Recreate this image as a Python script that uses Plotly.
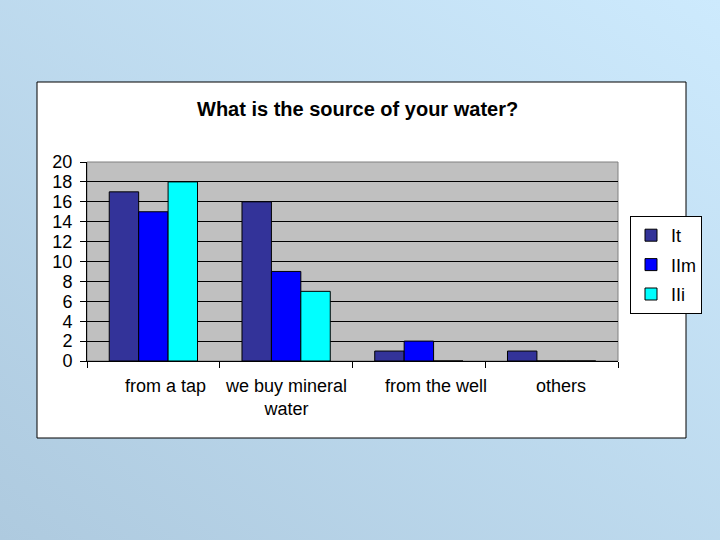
import base64
import plotly.graph_objects as go

categories = ["from a tap", "we buy mineral<br>water", "from the well", "others"]
series_names = ["It", "IIm", "IIi"]
vals_it = [17, 16, 1, 1]
vals_iim = [15, 9, 2, 0]
vals_iii = [18, 7, 0, 0]
colors = ["#333399", "#0000FF", "#00FFFF"]

W, H = 720, 540
svg = (
    f'<svg xmlns="http://www.w3.org/2000/svg" width="{W}" height="{H}">'
    '<defs><linearGradient id="g" x1="0" y1="1" x2="1" y2="0">'
    '<stop offset="0" stop-color="#aecadf"/>'
    '<stop offset="1" stop-color="#cdeafd"/>'
    '</linearGradient></defs>'
    f'<rect width="{W}" height="{H}" fill="url(#g)"/></svg>'
)
bg_uri = "data:image/svg+xml;base64," + base64.b64encode(svg.encode()).decode()

fig = go.Figure()
for i, (name, vals) in enumerate(zip(series_names, [vals_it, vals_iim, vals_iii])):
    fig.add_trace(go.Bar(
        x=categories, y=vals, name=name, legendgroup=name,
        marker=dict(color=colors[i], line=dict(color="#000000", width=1)),
    ))

# plot area pixel box
L, R, T, B = 87, 618, 162, 361

fs = 18
label_shift = [12, 0, 17, 9]
annotations = [dict(text="<b>What is the source of your water?</b>", xref="paper", yref="paper",
                    x=(357 - L) / (R - L), y=1 - (109 - T) / (B - T), xanchor="center", yanchor="middle",
                    showarrow=False, font=dict(size=20))]
for cat, sh in zip(categories, label_shift):
    annotations.append(dict(text=cat, x=cat, xref="x", yref="paper", y=1 - (374 - T) / (B - T),
                            xanchor="center", yanchor="top", xshift=sh, showarrow=False,
                            font=dict(size=fs)))

fig.update_layout(
    width=W, height=H,
    margin=dict(l=L, r=W - R, t=T, b=H - B, autoexpand=False),
    paper_bgcolor="rgba(0,0,0,0)",
    plot_bgcolor="#C0C0C0",
    barmode="group", bargap=0.335, bargroupgap=0,
    font=dict(family="Liberation Sans, Arial, sans-serif", size=fs, color="#000000"),
    images=[dict(source=bg_uri, xref="paper", yref="paper", x=-L / (R - L), y=1 + T / (B - T),
                 sizex=W / (R - L), sizey=H / (B - T), xanchor="left", yanchor="top",
                 sizing="stretch", layer="below")],
    shapes=[
        dict(type="rect", xref="paper", yref="paper",
             x0=(37 - L) / (R - L), x1=(686 - L) / (R - L),
             y0=1 - (438 - T) / (B - T), y1=1 - (82 - T) / (B - T),
             fillcolor="#FFFFFF", line=dict(color="#000000", width=1), layer="below"),
        dict(type="rect", xref="paper", yref="paper", x0=0, x1=1, y0=0, y1=1,
             fillcolor="#C0C0C0", line=dict(color="#808080", width=1), layer="below"),
    ],
    annotations=annotations,
    legend=dict(x=(630 - L) / (R - L), y=1 - (216 - T) / (B - T), xanchor="left", yanchor="top",
                bgcolor="#FFFFFF", bordercolor="#000000", borderwidth=1,
                traceorder="grouped", tracegroupgap=3, font=dict(size=fs),
                itemwidth=30),
    xaxis=dict(showgrid=False, showline=True, linecolor="#000000", linewidth=1,
               ticks="outside", tickson="boundaries", ticklen=6, tickcolor="#000000",
               showticklabels=False),
    yaxis=dict(range=[0, 20], dtick=2, showgrid=True, gridcolor="#000000", gridwidth=1,
               showline=True, linecolor="#000000", linewidth=1, zeroline=False,
               ticks="outside", ticklen=6, tickcolor="#000000", tickfont=dict(size=fs),
               ticklabelstandoff=4),
)

fig.write_html("out.html", config={"displayModeBar": False},
               post_script="document.body.style.margin='0';document.body.style.overflow='hidden';")
